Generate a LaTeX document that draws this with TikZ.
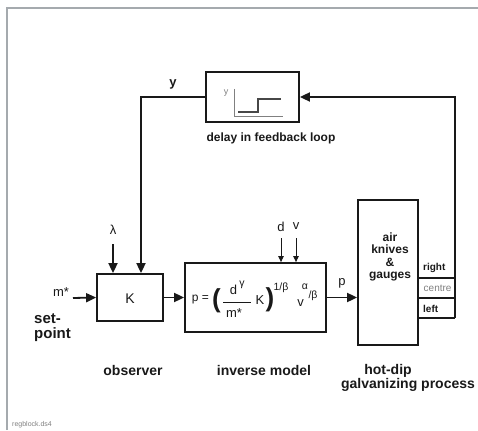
\documentclass[tikz,border=0pt]{standalone}
\usepackage{fontspec}
\setmainfont{Liberation Sans}
\usetikzlibrary{arrows.meta}
\definecolor{framegrey}{RGB}{165,170,174}
\definecolor{ink}{RGB}{25,25,25}
\tikzset{
  blk/.style={draw=ink, line width=1.8pt, inner sep=0pt},
  conn/.style={draw=ink, line width=1.8pt},
  arr/.style={conn, -{Triangle[length=10pt,width=9pt]}},
  arrsmall/.style={draw=ink, line width=1pt, -{Triangle[length=6pt,width=5.5pt]}},
  lbl/.style={font=\fontsize{14}{15}\selectfont\bfseries, text=ink, inner sep=0pt},
  sym/.style={font=\fontsize{13}{14}\selectfont, text=ink, inner sep=0pt},
  sup/.style={font=\fontsize{10.5}{11}\selectfont, text=ink, inner sep=0pt},
  tiny/.style={font=\fontsize{10}{11}\selectfont, inner sep=0pt},
  paren/.style={font=\fontsize{26}{26}\selectfont\bfseries, text=ink, inner sep=0pt},
}
\begin{document}
\begin{tikzpicture}[x=1pt,y=-1pt]
\useasboundingbox (0,0) rectangle (478,430);
% frame
\draw[framegrey, line width=2.5pt] (7,430) -- (7,8) -- (478,8);

% blocks
\node[blk, minimum width=93pt, minimum height=50pt] (delay) at (252.5,97) {};
\node[blk, minimum width=66pt, minimum height=47pt] (K) at (130,297.5) {};
\node[sym, font=\fontsize{14}{15}\selectfont] (Ktext) at (130,298.5) {K};
\node[blk, minimum width=141pt, minimum height=69pt] (inv) at (255.5,297.5) {};
\node[blk, minimum width=60pt, minimum height=145pt] (hot) at (388,272.5) {};

% delay box interior
\node[font=\fontsize{9}{10}\selectfont, text=gray, inner sep=0pt] (dy) at (226,93) {y};
\coordinate (ax0) at (234,89);
\coordinate (ax1) at (234,116);
\coordinate (ax2) at (283,116);
\draw[gray, line width=0.8pt] (ax0) -- (ax1) -- (ax2);
\coordinate (st0) at (238,112);
\coordinate (st1) at (258,112);
\coordinate (st2) at (258,99);
\coordinate (st3) at (281,99);
\draw[ink!80, line width=1.2pt] (st0) -- (st1) -- (st2) -- (st3);
\node[font=\fontsize{12}{13}\selectfont\bfseries, text=ink, inner sep=0pt] (dlbl) at (271,138) {delay in feedback loop};

% feedback loop
\coordinate (fbl) at (141,97);
\coordinate (rtop) at (455,97);
\coordinate (rbot) at (455,318);
\draw[arr] (rbot) -- (rtop) -- (delay.east);
\draw[arr] (delay.west) -- (fbl) -- (fbl |- K.north);
\node[font=\fontsize{13}{14}\selectfont\bfseries, text=ink, inner sep=0pt] (ylbl) at (173,84) {y};

% right / centre / left boxes
\coordinate (r1a) at (418,278); \coordinate (r1b) at (455,278);
\coordinate (r2a) at (418,298); \coordinate (r2b) at (455,298);
\coordinate (r3a) at (418,318);
\draw[conn] (r1a) -- (r1b);
\draw[conn] (r2a) -- (r2b);
\draw[conn] (r3a) -- (rbot);
\node[tiny, font=\fontsize{10}{11}\selectfont\bfseries, text=ink, anchor=west] (rgt) at (423,267.5) {right};
\node[tiny, text=gray, anchor=west] (ctr) at (423.5,288.5) {centre};
\node[tiny, font=\fontsize{10}{11}\selectfont\bfseries, text=ink, anchor=west] (lft) at (423,309) {left};

% hot-dip box text
\node[font=\fontsize{12}{12.4}\selectfont\bfseries, text=ink, align=center, inner sep=0pt] (hottext) at (390,257) {air\\knives\\\&\\gauges};

% inputs to K
\coordinate (lam) at (113,244);
\node[sym] (lamlbl) at (113,230) {λ};
\draw[arr] (lam) -- (lam |- K.north);
\coordinate (ms) at (73,298);
\node[sym] (mslbl) at (61,292) {m*};
\draw[arr] (ms) -- (K.west);
\node[lbl, align=left, anchor=west, font=\fontsize{15}{15.5}\selectfont\bfseries] (sp) at (34,327.5) {set-\\point};

% K -> inverse model
\draw[arr] (K.east) -- (inv.west);

% inputs d, v
\coordinate (dtop) at (281,238);
\coordinate (vtop) at (296,238);
\node[sym] (dlblin) at (281,227) {d};
\node[sym] (vlblin) at (296,226) {v};
\draw[arrsmall] (dtop) -- (dtop |- inv.north);
\draw[arrsmall] (vtop) -- (vtop |- inv.north);

% formula
\node[sym, font=\fontsize{12}{13}\selectfont] (peq) at (200.5,300) {p =};
\node[paren] (lpar) at (216.5,301) {(};
\node[sym] (fd) at (233.5,290) {d};
\node[sup] (fg) at (242,285) {γ};
\coordinate (fl0) at (223,302);
\coordinate (fl1) at (251,302);
\draw[ink, line width=0.8pt] (fl0) -- (fl1);
\node[sym] (fm) at (234,313.5) {m*};
\node[sym] (fK) at (260,300) {K};
\node[paren] (rpar) at (270,300) {)};
\node[sup] (fexp) at (281,288) {1/β};
\node[sym] (fv) at (300.5,303) {v};
\node[sup] (fa) at (305,287) {α};
\node[sup] (fb) at (313,296) {/β};

% inverse -> hot-dip
\draw[arr] (inv.east) -- (inv.east -| hot.west);
\node[sym] (plbl) at (342,283) {p};

% bottom labels
\node[lbl] (obs) at (133,370) {observer};
\node[lbl] (invl) at (264,370) {inverse model};
\node[lbl] (hd1) at (388,371) {hot-dip};
\node[lbl] (hd2) at (408,385) {galvanizing process};

\node[font=\fontsize{7}{8}\selectfont, text=gray, anchor=west, inner sep=0pt] (reg) at (12,425) {regblock.ds4};
\end{tikzpicture}
\end{document}
